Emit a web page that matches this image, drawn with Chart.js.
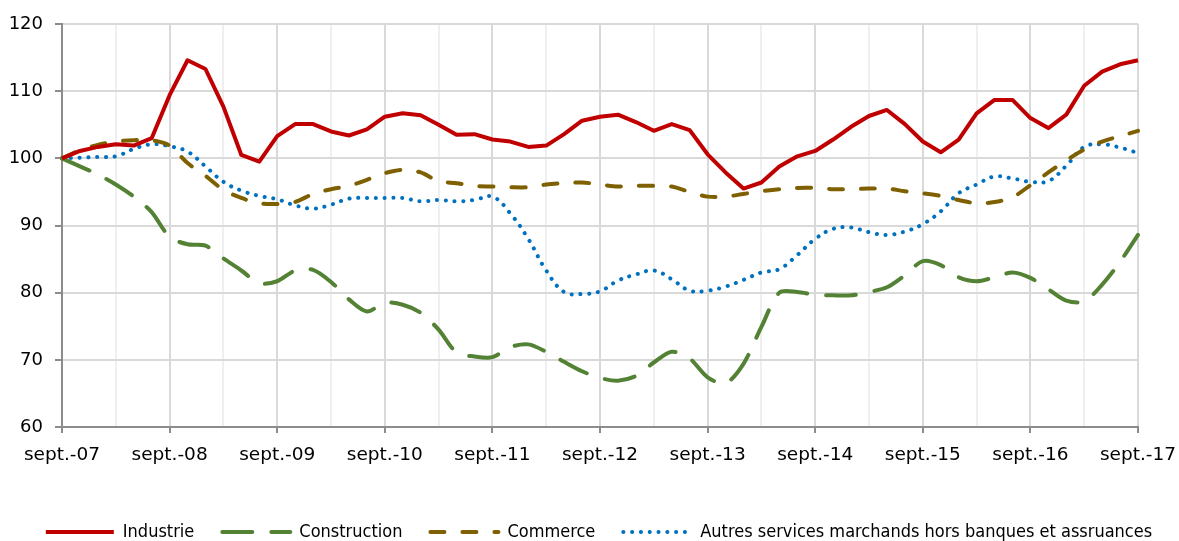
<!DOCTYPE html>
<html>
<head>
<meta charset="utf-8">
<script src="https://cdn.jsdelivr.net/npm/chart.js@4.4.1/dist/chart.umd.min.js"></script>
<style>
  html, body { margin: 0; padding: 0; background: #fff; }
  canvas { display: block; }
</style>
</head>
<body>
<canvas id="chart" width="1179" height="541"></canvas>
<script>
// bimonthly points, sept. 2007 -> sept. 2017 (index 100 = sept.-07)
const categories = [
  'sept.-07', 'nov.-07',
  'janv.-08', 'mars-08', 'mai-08', 'juil.-08', 'sept.-08', 'nov.-08',
  'janv.-09', 'mars-09', 'mai-09', 'juil.-09', 'sept.-09', 'nov.-09',
  'janv.-10', 'mars-10', 'mai-10', 'juil.-10', 'sept.-10', 'nov.-10',
  'janv.-11', 'mars-11', 'mai-11', 'juil.-11', 'sept.-11', 'nov.-11',
  'janv.-12', 'mars-12', 'mai-12', 'juil.-12', 'sept.-12', 'nov.-12',
  'janv.-13', 'mars-13', 'mai-13', 'juil.-13', 'sept.-13', 'nov.-13',
  'janv.-14', 'mars-14', 'mai-14', 'juil.-14', 'sept.-14', 'nov.-14',
  'janv.-15', 'mars-15', 'mai-15', 'juil.-15', 'sept.-15', 'nov.-15',
  'janv.-16', 'mars-16', 'mai-16', 'juil.-16', 'sept.-16', 'nov.-16',
  'janv.-17', 'mars-17', 'mai-17', 'juil.-17', 'sept.-17'
];

const industrie = [
  100, 101.1, 101.7, 102.1, 101.9, 103.0, 109.4, 114.6, 113.3, 107.7,
  100.5, 99.5, 103.3, 105.1, 105.1, 104.0, 103.4, 104.3, 106.2, 106.7,
  106.4, 105.0, 103.5, 103.6, 102.8, 102.5, 101.7, 101.9, 103.6, 105.6,
  106.2, 106.5, 105.4, 104.1, 105.1, 104.2, 100.6, 97.9, 95.5, 96.4,
  98.8, 100.3, 101.1, 102.8, 104.7, 106.3, 107.2, 105.1, 102.5, 100.9,
  102.8, 106.7, 108.7, 108.7, 106.0, 104.5, 106.5, 110.8, 112.9, 114.0,
  114.6
];

const construction = [
  100, 98.8, 97.6, 96.1, 94.3, 92.0, 88.3, 87.2, 87.0, 85.1,
  83.3, 81.4, 81.7, 83.3, 83.4, 81.6, 79.0, 77.2, 78.5, 78.2,
  77.0, 74.5, 71.1, 70.5, 70.4, 71.9, 72.3, 71.2, 69.7, 68.3,
  67.3, 66.9, 67.6, 69.6, 71.2, 70.2, 67.4, 66.5, 69.4, 74.9,
  80.0, 80.1, 79.7, 79.6, 79.6, 80.1, 80.8, 82.6, 84.7, 84.1,
  82.3, 81.7, 82.3, 83.0, 82.2, 80.5, 78.8, 78.7, 81.2, 84.6,
  88.6
];

const commerce = [
  100, 101.2, 102.0, 102.5, 102.7, 102.7, 101.9, 99.3, 97.4, 95.3,
  94.1, 93.3, 93.2, 93.5, 94.7, 95.4, 95.9, 96.8, 97.8, 98.3,
  97.9, 96.6, 96.3, 95.9, 95.8, 95.7, 95.7, 96.1, 96.3, 96.4,
  96.1, 95.8, 95.9, 95.9, 95.8, 95.0, 94.3, 94.3, 94.7, 95.1,
  95.4, 95.6, 95.6, 95.4, 95.4, 95.5, 95.5, 95.1, 94.8, 94.4,
  93.8, 93.3, 93.5, 94.2, 96.0, 97.9, 99.7, 101.3, 102.5, 103.3,
  104.1
];

const autresServices = [
  100, 100.1, 100.2, 100.3, 101.4, 102.1, 101.8, 101.0, 98.8, 96.5,
  95.2, 94.4, 93.9, 93.0, 92.5, 93.1, 94.0, 94.1, 94.1, 94.1,
  93.6, 93.8, 93.6, 93.8, 94.3, 91.8, 88.0, 83.3, 80.1, 79.8,
  80.2, 81.8, 82.7, 83.3, 82.0, 80.3, 80.3, 80.9, 81.9, 83.0,
  83.5, 85.6, 88.0, 89.5, 89.7, 89.0, 88.6, 89.1, 90.2, 92.1,
  94.8, 96.1, 97.3, 97.0, 96.5, 96.6, 98.9, 101.7, 102.1, 101.6,
  100.8
];

const seriesNames = [
  'Industrie',
  'Construction',
  'Commerce',
  'Autres services marchands hors banques et assruances'
];

const yTicks = [60, 70, 80, 90, 100, 110, 120];

const FONT = "'DejaVu Sans', sans-serif";
const LEGEND_FONT = "'DejaVu Sans Condensed', 'DejaVu Sans', sans-serif";
const AXIS_GREY = '#8C8C8C';
const GRID_GREY = '#D9D9D9';
const MINOR_GREY = '#EFEFEF';

function lineSet(label, data, color, extra) {
  return Object.assign({
    label: label,
    data: data,
    borderColor: color,
    backgroundColor: color,
    borderWidth: 4,
    pointRadius: 0,
    pointHoverRadius: 0,
    pointStyle: 'line',
    fill: false,
    tension: 0
  }, extra || {});
}

// legend samples: use the dataset's own dash pattern, drawn left to right
function legendLabels(chart) {
  const items = Chart.defaults.plugins.legend.labels.generateLabels(chart);
  items.forEach(it => {
    const ds = chart.data.datasets[it.datasetIndex];
    it.lineDash = ds.borderDash || [];
    it.lineCap = ds.borderCapStyle || 'butt';
    it.strokeStyle = ds.borderColor;
    it.lineWidth = ds.borderWidth;
    it.rotation = 180;
  });
  return items;
}

// keep the legend on one row, and sit it a bit right of centre like the original
// (left + right = 1198 puts the first sample at x ~46)
const legendRow = {
  id: 'legendRow',
  beforeLayout(chart) {
    const lg = chart.legend;
    if (!lg || lg.__oneRow) return;
    const orig = lg.update;
    lg.update = function (maxWidth, maxHeight, margins) {
      return orig.call(this, 1400, maxHeight, margins);
    };
    lg.__oneRow = true;
  },
  beforeDraw(chart) {
    const lg = chart.legend;
    if (!lg) return;
    lg.left = -102;
    lg.right = 1300;
  }
};

const ctx = document.getElementById('chart').getContext('2d');

new Chart(ctx, {
  type: 'line',
  data: {
    labels: categories,
    datasets: [
      lineSet(seriesNames[0], industrie, '#C00000', { borderJoinStyle: 'round' }),
      lineSet(seriesNames[1], construction, '#548235', { borderDash: [30, 19], borderCapStyle: 'round', tension: 0.3 }),
      lineSet(seriesNames[2], commerce, '#7F6000', { borderDash: [14, 18], borderCapStyle: 'round', tension: 0.3 }),
      lineSet(seriesNames[3], autresServices, '#0070C0', { borderDash: [0.1, 8.7], borderCapStyle: 'round', tension: 0.4 })
    ]
  },
  plugins: [legendRow],
  options: {
    responsive: false,
    animation: false,
    events: [],
    layout: { padding: { top: 24, left: 0, right: 0, bottom: -10 } },
    plugins: {
      tooltip: { enabled: false },
      legend: {
        position: 'bottom',
        labels: {
          usePointStyle: true,
          pointStyle: 'line',
          pointStyleWidth: 68,
          padding: 28,
          color: '#000',
          font: { family: LEGEND_FONT, size: 18 },
          generateLabels: legendLabels
        }
      }
    },
    scales: {
      x: {
        type: 'category',
        offset: false,
        grid: {
          lineWidth: 2,
          tickLength: 6,
          color: (c) => c.index % 6 === 0 ? GRID_GREY : (c.index % 3 === 0 ? MINOR_GREY : 'rgba(0,0,0,0)'),
          tickColor: (c) => c.index % 6 === 0 ? AXIS_GREY : 'rgba(0,0,0,0)'
        },
        border: { color: AXIS_GREY, width: 2 },
        ticks: {
          autoSkip: false,
          maxRotation: 0,
          minRotation: 0,
          padding: 11,
          color: '#000',
          font: { family: FONT, size: 18.5 },
          callback: (v, i) => (i % 6 === 0 ? categories[i] : '')
        },
        afterFit: (s) => {
          s.height = 68;
          s.paddingLeft = 0;
          s.paddingRight = 41;
        }
      },
      y: {
        min: yTicks[0],
        max: yTicks[yTicks.length - 1],
        grid: { color: GRID_GREY, lineWidth: 2, tickLength: 7, tickColor: AXIS_GREY },
        border: { color: AXIS_GREY, width: 2 },
        afterBuildTicks: (s) => { s.ticks = yTicks.map(v => ({ value: v })); },
        ticks: {
          padding: 12,
          color: '#000',
          font: { family: FONT, size: 18 }
        },
        afterFit: (s) => { s.width = 62; }
      }
    }
  }
});
</script>
</body>
</html>
